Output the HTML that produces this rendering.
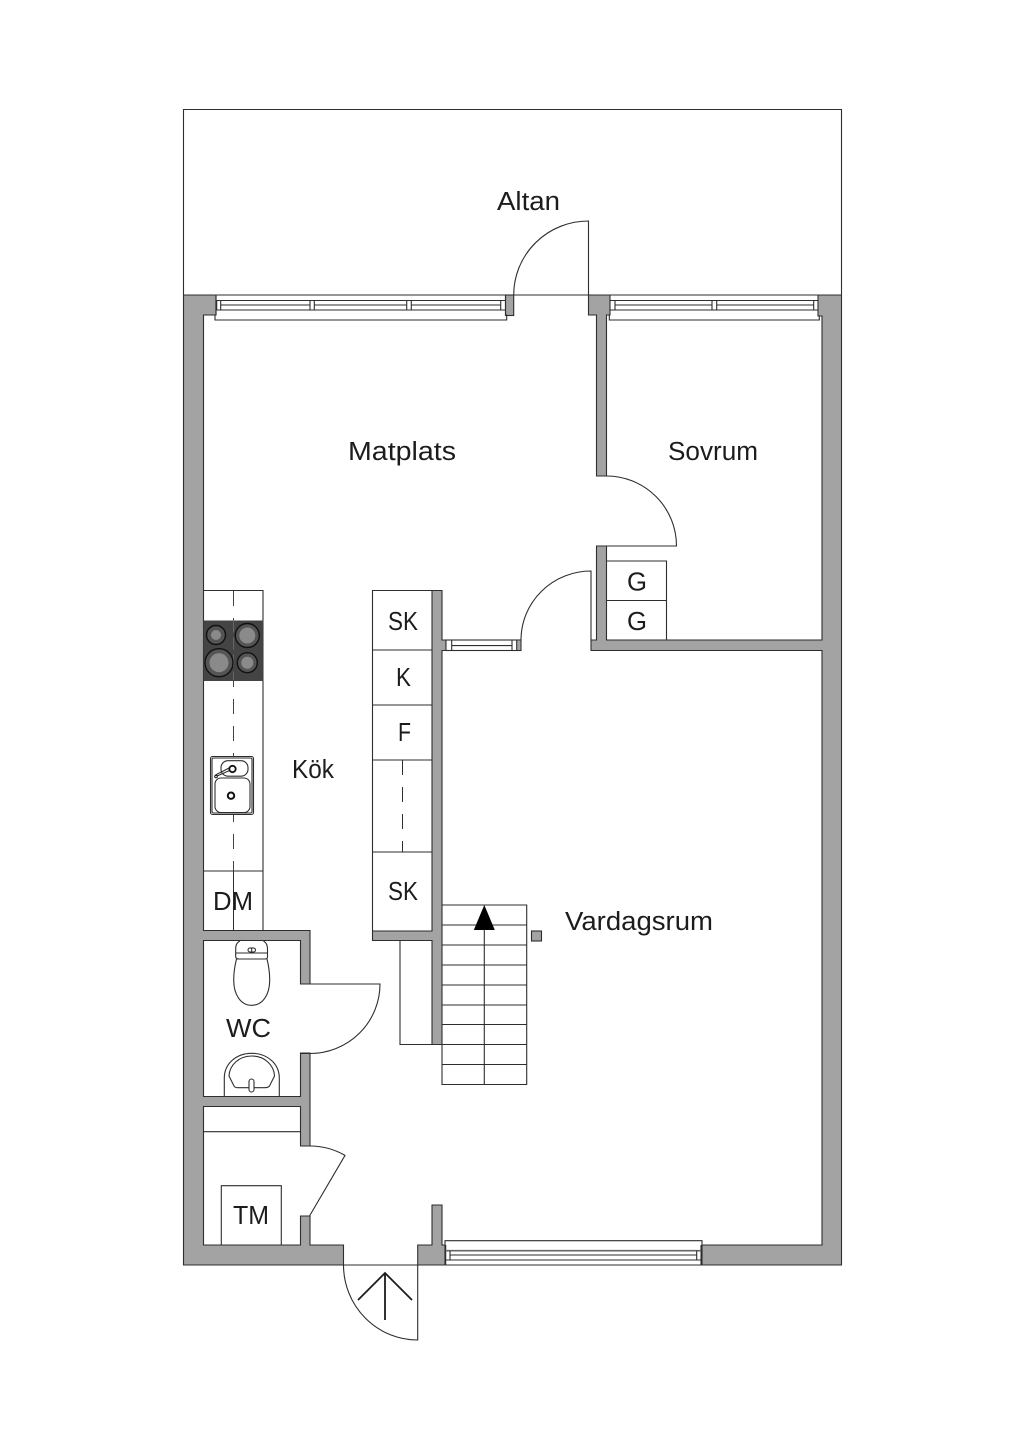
<!DOCTYPE html>
<html lang="sv">
<head>
<meta charset="utf-8">
<title>Planritning</title>
<style>
html,body{margin:0;padding:0;background:#fff}
svg{display:block}
.w{fill:#a3a3a3;stroke:#2e2e2e;stroke-width:1.1;stroke-linejoin:miter}
.l{fill:none;stroke:#2e2e2e;stroke-width:1.1}
.f{fill:#fff;stroke:#2e2e2e;stroke-width:1.1}
text{font-family:"Liberation Sans",sans-serif;font-size:25.5px;fill:#1c1c1c;lengthAdjust:spacingAndGlyphs}
</style>
</head>
<body>
<svg width="1024" height="1448" viewBox="0 0 1024 1448" xmlns="http://www.w3.org/2000/svg">
<rect width="1024" height="1448" fill="#fff"/>

<!-- Altan -->
<path class="l" d="M183.5 295V109.5H841.5V295M183.5 295H841.5"/>

<!-- Walls -->
<path class="w" d="M183.5 295H216V315H203.5V930.5H310V984H300.5V940.5H203.5V1096.5H300.5V1053H310V1146H300.5V1106.5H203.5V1245H300.5V1216H310V1245H343.5V1265H183.5Z"/>
<path class="w" d="M417.7 1265V1245H432V1205H442V1245H445V1265Z"/>
<path class="w" d="M841.5 295V1265H702V1245H822V650.5H591V640H596.5V546H606.5V640H822V316H818V295Z"/>
<path class="w" d="M588.5 295H610V315H606.5V476H596.5V315H588.5Z"/>
<rect class="w" x="505.5" y="295" width="8.2" height="20.5"/>
<path class="w" d="M432 590.5H442V640H446V650.5H442V1044.5H432V940.5H372.5V931H432Z"/>
<rect class="w" x="531.5" y="931" width="10" height="10"/>

<!-- Top-left window -->
<path class="l" d="M216 295V315H215V320H506.7V315H505.5V295"/>
<path class="l" d="M216.5 300.5H505.5M216.5 310H505.5M220.7 305H310M314.3 305H406.7M411.3 305H500.7"/>
<path class="l" d="M216.7 300.5V310M220.7 300.5V310M310 300.5V310M314.3 300.5V310M406.7 300.5V310M411.3 300.5V310M500.7 300.5V310"/>

<!-- Top-right window -->
<path class="l" d="M610 315.5H609.3V320H819.3V316"/>
<path class="l" d="M610.3 300.5H818M610.3 310H818M615 305H712M716.7 305H813.7"/>
<path class="l" d="M615 300.5V310M712 300.5V310M716.7 300.5V310M813.7 300.5V310"/>

<!-- Small window -->
<rect class="f" x="446" y="640" width="75" height="10.5"/>
<rect x="446" y="640.5" width="0" height="0"/>
<rect x="516.7" y="640.6" width="3.8" height="9.4" fill="#a3a3a3"/>
<path class="l" d="M451.7 640V650.5M512 640V650.5M516.7 640V650.5M451.7 645.6H512"/>

<!-- Bottom window -->
<path class="l" d="M445 1245V1240.7H702V1245M445.7 1245V1265H701V1245M445.7 1265H701"/>
<path d="M445.7 1250.7H701" stroke="#666" stroke-width="1.6" fill="none"/>
<path class="l" d="M450 1255H696.7M445.7 1260H701M450 1250.7V1260M696.7 1250.7V1260"/>

<!-- Doors -->
<path class="l" d="M588.5 295V221A74.8 74 0 0 0 513.7 295"/>
<path class="l" d="M606.5 476A70 70 0 0 1 676.5 546H606.5"/>
<path class="l" d="M591 640V571A70 69 0 0 0 521 640"/>
<path class="l" d="M300.5 984H380A70 69.5 0 0 1 310 1053.5H300.5"/>
<path class="l" d="M300.5 1146H310A70 70 0 0 1 345 1155.4L309.5 1216"/>
<path class="l" d="M417.7 1265V1340A74.2 75 0 0 1 343.5 1265M343.5 1265H417.7"/>
<path d="M358 1300L385 1273L412 1300M385 1273V1320" fill="none" stroke="#1c1c1c" stroke-width="1.8"/>

<!-- Kitchen counter -->
<path class="l" d="M203.5 590.5H263V930.5M203.5 871H263"/>
<path d="M233.5 591V871" fill="none" stroke="#444" stroke-width="1" stroke-dasharray="15 12"/>
<path d="M233.5 871V930" fill="none" stroke="#2e2e2e" stroke-width="1"/>

<!-- Hob -->
<rect x="203.5" y="620.5" width="60" height="60.5" fill="#444"/>
<path d="M233.5 620.5V680" stroke="#666" stroke-width="1" stroke-dasharray="12 5"/>
<g stroke="#111" fill="#8a8a8a">
<circle cx="216" cy="635" r="9.5" fill="#555" stroke-width="1.4"/><circle cx="216" cy="635" r="5" stroke="none"/>
<circle cx="247.3" cy="635.5" r="12" fill="#555" stroke-width="1.4"/><circle cx="247.3" cy="635.5" r="8" stroke="none"/>
<circle cx="219" cy="662.7" r="14" fill="#555" stroke-width="1.4"/><circle cx="219" cy="662.7" r="9.5" stroke="none"/>
<circle cx="247.3" cy="662.7" r="10" fill="#555" stroke-width="1.4"/><circle cx="247.3" cy="662.7" r="6" stroke="none"/>
</g>

<!-- Sink -->
<rect class="f" x="210.5" y="756.5" width="43" height="58" rx="2"/>
<rect class="l" x="212" y="758" width="40" height="55" rx="1.5"/>
<rect class="l" x="221" y="760.7" width="27" height="15.5" rx="7"/>
<rect class="l" x="215" y="778" width="35" height="34.5" rx="6"/>
<path class="l" d="M233 769L216 776.5M232 766.5L215.5 775"/>
<circle cx="232.5" cy="769" r="3.2" fill="#fff" stroke="#111" stroke-width="1.8"/>
<circle cx="216" cy="776.5" r="1.3" fill="#fff" stroke="#111"/>
<circle cx="231" cy="795.7" r="3.2" fill="#fff" stroke="#111" stroke-width="2"/>

<!-- Toilet -->
<path class="l" d="M240 941C236 943 235.7 946 235.7 949V957Q236 959 239 959H265Q267.5 959 267.5 957V949C267.5 946 267 943 263.5 941"/>
<path class="l" d="M236 953H267.5"/>
<rect x="248" y="948" width="7.5" height="4" rx="2" fill="#fff" stroke="#222"/>
<path d="M251.7 948V952" stroke="#222"/>
<path class="l" d="M236.5 959C235 965 233.7 972 233.7 980C233.7 995 241 1005.3 251.7 1005.3C262.5 1005.3 269.7 995 269.7 980C269.7 972 268.5 965 267 959"/>

<!-- WC basin -->
<path class="l" d="M224.3 1096.5V1078C224.3 1064 236 1053.3 251.8 1053.3C267.5 1053.3 279.3 1064 279.3 1078V1096.5"/>
<path class="l" d="M234 1086L229 1076C229.5 1065 239 1056 251.8 1056C264.5 1056 274 1065 274.5 1076L269.5 1086Q268 1087.7 265 1087.7H238Q235 1087.7 234 1086Z"/>
<rect class="f" x="249" y="1079" width="5" height="13" rx="2.5"/>

<!-- Closet -->
<path class="l" d="M203.5 1131.7H300.5"/>
<path class="l" d="M221.3 1245V1185.7H281.3V1245"/>

<!-- Cabinet column -->
<path class="l" d="M432 590.5H372.5V931M372.5 650H432M372.5 705H432M372.5 760H432M372.5 852H432"/>
<path d="M402.5 760V852" fill="none" stroke="#2e2e2e" stroke-width="1" stroke-dasharray="15 12"/>

<!-- Wardrobes -->
<path class="l" d="M606.5 561H666.5V640M606.5 600.5H666.5"/>

<!-- Under-stair storage -->
<path class="l" d="M400 940.5V1044.5H432"/>

<!-- Stairs -->
<path class="l" d="M442 905H526.7V1084.5H442V1044.5M442 925H526.7M442 945H526.7M442 965H526.7M442 985H526.7M442 1005H526.7M442 1024.5H526.7M442 1044.5H526.7M442 1064.5H526.7M484.3 925V1084.5"/>
<path d="M484.3 905L494.8 930H473.8Z" fill="#000"/>

<!-- Labels -->
<text x="497" y="210" textLength="63" lengthAdjust="spacingAndGlyphs">Altan</text>
<text x="348" y="460" textLength="108" lengthAdjust="spacingAndGlyphs">Matplats</text>
<text x="668" y="460" textLength="90" lengthAdjust="spacingAndGlyphs">Sovrum</text>
<text x="292" y="778" textLength="42" lengthAdjust="spacingAndGlyphs">Kök</text>
<text x="565" y="930" textLength="148" lengthAdjust="spacingAndGlyphs">Vardagsrum</text>
<text x="226" y="1037" textLength="45" lengthAdjust="spacingAndGlyphs">WC</text>
<text x="233" y="1224" textLength="36" lengthAdjust="spacingAndGlyphs">TM</text>
<text x="213" y="910" textLength="40" lengthAdjust="spacingAndGlyphs">DM</text>
<text x="388" y="630" textLength="30" lengthAdjust="spacingAndGlyphs">SK</text>
<text x="396" y="686" textLength="15" lengthAdjust="spacingAndGlyphs">K</text>
<text x="398" y="741" textLength="13" lengthAdjust="spacingAndGlyphs">F</text>
<text x="388" y="900" textLength="30" lengthAdjust="spacingAndGlyphs">SK</text>
<text x="627" y="590.5" textLength="20" lengthAdjust="spacingAndGlyphs">G</text>
<text x="627" y="630" textLength="20" lengthAdjust="spacingAndGlyphs">G</text>
</svg>
</body>
</html>
